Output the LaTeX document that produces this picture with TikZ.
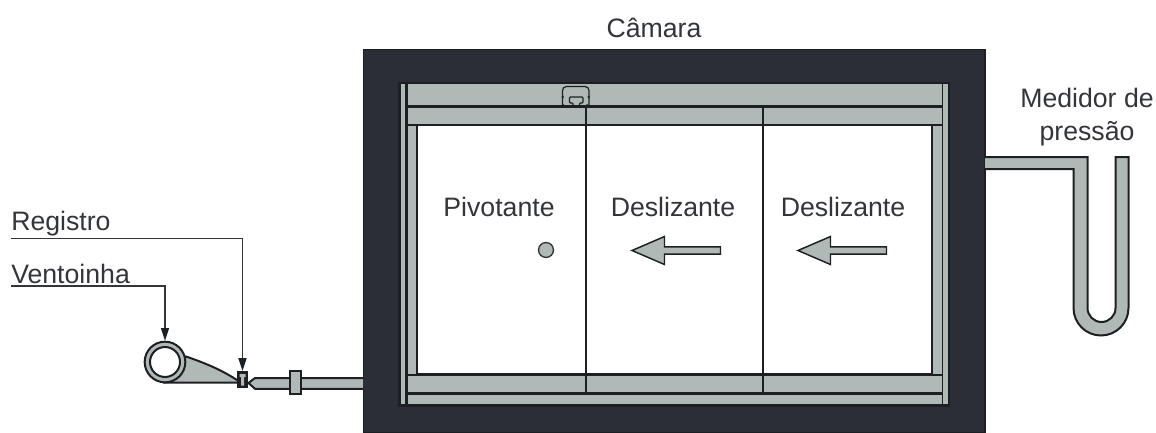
\documentclass[tikz,border=0pt]{standalone}
\usepackage{fontspec}
\setmainfont{Liberation Sans}
\usetikzlibrary{arrows.meta}
\definecolor{wall}{HTML}{2B2E36}
\definecolor{edge}{HTML}{1D2022}
\definecolor{metal}{HTML}{B0B9B6}
\definecolor{ink}{HTML}{333538}
\tikzset{
  label text/.style={font=\fontsize{20}{24}\selectfont,text=ink,inner sep=0pt,anchor=base},
  metal part/.style={fill=metal,draw=edge,line width=1.5pt,line join=miter},
  thin part/.style={fill=metal,draw=edge,line width=1.1pt,line join=miter},
  strip/.style={fill=metal,draw=none},
  rule/.style={draw=edge,line width=2.1pt},
  leader/.style={draw=ink,line width=1.15pt,-{Stealth[length=9.5pt,width=6pt,inset=0pt,color=edge]}}
}
\begin{document}
\begin{tikzpicture}[x=0.75pt,y=-0.75pt]
\useasboundingbox (0,0) rectangle (1156,432);
% chamber
\fill[wall,draw=edge,line width=0.8pt] (363.5,49.5) rectangle (985,433);
\fill[edge] (398,82) rectangle (950,407);
% outer light strips
\fill[strip] (400.7,83.5) rectangle (405,404);
\fill[strip] (943.3,83.5) rectangle (948,404);
% top and bottom bands
\fill[strip] (407.5,83.5) rectangle (941.7,105);
\fill[strip] (407.5,108) rectangle (941.7,124);
\fill[strip] (407.5,376) rectangle (941.7,392);
\fill[strip] (407.5,394.5) rectangle (941.7,404);
% door opening and side posts
\fill[strip] (407.5,126) rectangle (416,373.5);
\fill[strip] (933,126) rectangle (941.7,373.5);
\fill[white] (418,126) rectangle (930.7,373);
% dividers
\coordinate (d1t) at (586,108);
\coordinate (d1b) at (586,392);
\coordinate (d2t) at (763,108);
\coordinate (d2b) at (763,392);
\draw[rule] (d1t) -- (d1b);
\draw[rule] (d2t) -- (d2b);
% carriage
\draw[edge,line width=0.9pt,rounded corners=3pt] (562.5,105) -- (562.5,86.5) -- (589,86.5) -- (589,105);
\draw[edge,line width=0.9pt,rounded corners=0.8pt] (569.5,97) -- (583,97) -- (583,103) -- (579.5,103) -- (579.5,107) -- (573,107) -- (573,103) -- (569.5,103) -- cycle;
\fill[edge] (562.7,97) circle (1.3) (588.7,97) circle (1.3) (563,105.5) circle (1.5) (587,105.5) circle (1.5);
% pivot and arrows
\node[circle,fill=metal,draw=ink,line width=1pt,minimum size=11.2pt,inner sep=0pt] (pivot) at (546,250) {};
\draw[thin part] (632,250.5) -- (664.5,236.5) -- (664.5,246.8) -- (720.5,246.8) -- (720.5,254.2) -- (664.5,254.2) -- (664.5,264.5) -- cycle;
\draw[thin part] (798,250.5) -- (830.5,236.5) -- (830.5,246.8) -- (886.5,246.8) -- (886.5,254.2) -- (830.5,254.2) -- (830.5,264.5) -- cycle;
% texts
\node[label text] (camara) at (654,37) {Câmara};
\node[label text] (med1) at (1087,107) {Medidor de};
\node[label text] (med2) at (1087,140) {pressão};
\node[label text] (piv) at (499,216) {Pivotante};
\node[label text] (des1) at (673,216) {Deslizante};
\node[label text] (des2) at (843,216) {Deslizante};
\node[label text,anchor=base west] (reg) at (11,230) {Registro};
\node[label text,anchor=base west] (ven) at (11,283) {Ventoinha};
% manometer
\draw[metal part] (985,157) -- (1087.5,157) -- (1087.5,308) arc[start angle=180,end angle=0,radius=14] -- (1115.5,157) -- (1128.5,157) -- (1128.5,308) arc[start angle=0,end angle=180,radius=27.5] -- (1073.5,169) -- (985,169);
% duct
\draw[metal part] (363,378) -- (255,378) -- (248.5,383) -- (255,388.8) -- (363,388.8);
\draw[metal part] (290.2,371.2) rectangle (300.6,394.3);
% fan body
\draw[metal part] (165,382.5) -- (238,382.5) -- (238.5,381) .. controls (222,370) and (205,363) .. (186,356.5) -- cycle;
\node[circle,fill=metal,draw=edge,line width=1.5pt,minimum size=30.5pt,inner sep=0pt] (fan) at (165,362) {};
\node[circle,fill=white,draw=edge,line width=1.5pt,minimum size=22.5pt,inner sep=0pt] (hub) at (165,362) {};
% valve
\node[rectangle,fill=edge,minimum width=8pt,minimum height=12.5pt,inner sep=0pt] (valve) at (242.5,379.5) {};
\fill[metal] (239.5,374) rectangle (245.5,377) (241,377) rectangle (244,385.5);
% leaders
\coordinate (regs) at (11,238.7);
\coordinate (vens) at (11,286);
\draw[leader] (regs) -| (valve.north);
\draw[leader] (vens) -| (fan.north);
\end{tikzpicture}
\end{document}
